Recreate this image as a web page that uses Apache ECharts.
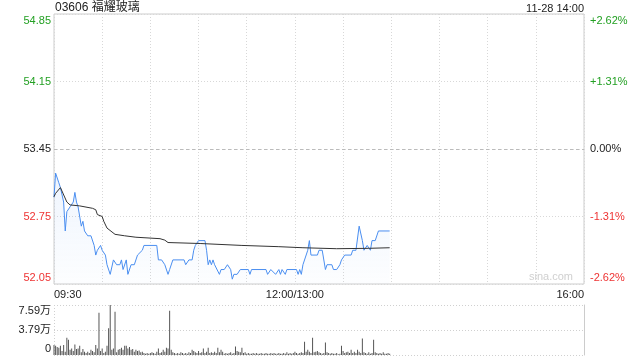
<!DOCTYPE html>
<html><head><meta charset="utf-8">
<script src="https://cdn.jsdelivr.net/npm/echarts@6/dist/echarts.min.js"></script>
<style>html,body{margin:0;padding:0;background:#fff}#c{width:640px;height:360px}</style>
</head><body><div id="c"></div>
<script>
const titleText = '03606 福耀玻璃';
const stampText = '11-28 14:00';
const watermark = 'sina.com';
const prevClose = 53.45;
const priceTickLabels = ['52.05','52.75','53.45','54.15','54.85'];
const pctTickLabels = ['-2.62%','-1.31%','0.00%','+1.31%','+2.62%'];
const timeLabels = {0:'09:30', 150:'12:00/13:00', 330:'16:00'};
const volTickLabels = ['0','3.79万','7.59万'];

const priceMin = [0,1,3,4,5,6,7,8,10,12,13,14,15,17,18,19,21,23,25,26,27,28,29,30,32,33,35,37,39,41,42,43,45,46,48,50,52,53,55,56,64,65,67,69,71,72,74,81,82,84,86,87,88,90,94,95,96,97,98,99,100,101,103,104,106,108,110,111,112,114,116,121,122,123,132,133,135,138,140,141,142,144,145,151,152,153,154,155,156,158,159,160,164,165,167,169,170,173,174,176,178,179,181,185,186,188,190,191,192,193,195,196,197,198,200,202,209];
const priceVal = [52.95,53.20,53.10,53.05,53.05,52.90,52.60,52.80,52.85,52.90,53.00,52.90,52.85,52.65,52.70,52.60,52.55,52.55,52.45,52.35,52.40,52.40,52.45,52.40,52.35,52.25,52.15,52.30,52.25,52.25,52.30,52.20,52.30,52.15,52.25,52.25,52.35,52.35,52.40,52.45,52.45,52.30,52.30,52.25,52.15,52.20,52.30,52.30,52.25,52.30,52.30,52.40,52.45,52.50,52.50,52.40,52.25,52.30,52.25,52.30,52.25,52.25,52.15,52.20,52.20,52.25,52.20,52.10,52.15,52.15,52.20,52.20,52.15,52.20,52.20,52.15,52.20,52.15,52.20,52.15,52.20,52.15,52.20,52.20,52.15,52.20,52.15,52.25,52.25,52.40,52.50,52.35,52.35,52.40,52.40,52.20,52.25,52.25,52.20,52.20,52.25,52.30,52.35,52.35,52.40,52.40,52.65,52.65,52.50,52.40,52.45,52.45,52.40,52.50,52.50,52.60,52.60];

const avgMin = [0,1,4,5,8,10,16,24,26,27,30,31,33,38,44,51,66,69,71,91,117,140,155,176,196,209];
const avgVal = [52.955,52.99,53.05,53.05,52.90,52.87,52.86,52.835,52.82,52.77,52.75,52.70,52.63,52.565,52.55,52.535,52.52,52.505,52.48,52.47,52.45,52.437,52.426,52.416,52.42,52.426];

// volume per minute, in 万 shares, minutes 0..209
const volume = [1.5,1.4,1.2,1.1,1.4,0.6,1.5,0.5,2.6,2.3,0.8,1.0,0.6,1.6,0.9,1.0,1.4,0.4,0.9,0.5,
0.3,0.5,0.3,0.8,0.6,0.4,1.5,1.0,6.4,0.6,1.0,0.3,0.5,1.4,4.05,7.59,0.8,1.0,6.57,0.4,
0.8,0.9,1.1,0.8,1.4,1.4,1.0,1.2,0.8,0.9,0.5,0.8,0.6,0.7,0.4,0.5,0.3,0.2,0.3,0.2,
0.3,0.4,0.3,0.2,0.5,1.0,0.3,0.4,0.8,0.5,1.1,1.0,6.7,0.8,0.4,0.3,0.2,0.3,0.2,0.4,
0.3,0.2,0.3,0.2,0.4,0.3,0.8,0.6,0.4,0.3,0.6,0.3,0.4,1.0,0.3,0.5,1.1,0.3,0.4,0.3,
0.5,0.3,1.1,0.4,0.8,0.5,0.2,0.3,0.2,0.3,0.4,0.2,0.3,1.3,0.6,0.5,0.4,1.1,0.3,0.4,
0.2,0.3,0.2,0.2,0.3,0.2,0.3,0.2,0.2,0.3,0.2,0.2,0.3,0.2,0.2,0.3,0.2,0.3,0.2,0.2,
0.3,0.2,0.2,0.3,0.2,0.4,0.2,0.3,0.2,0.3,0.5,0.3,0.2,0.3,0.4,0.3,2.0,0.5,0.8,0.5,
0.3,2.6,0.4,0.5,0.6,0.4,0.3,0.2,0.3,1.9,0.4,0.3,0.2,0.3,0.2,0.2,0.3,0.1,0.2,1.4,
0.6,0.3,0.4,0.5,0.3,0.8,0.3,0.5,0.3,0.8,0.5,0.3,2.5,0.4,0.3,0.2,0.4,0.2,0.3,2.3,
0.4,0.3,0.2,0.3,0.2,0.4,0.2,0.2,0.3,0.2];
const volMax = 7.59;

const FONT = '"Liberation Sans", Arial, "Noto Sans CJK SC", sans-serif';
const GREEN = '#23a023', RED = '#ee3333', BLACK = '#222';

const priceData = priceMin.map((t, i) => [t, +(priceVal[i] - prevClose).toFixed(3)]);
const avgData = avgMin.map((t, i) => [t, +(avgVal[i] - prevClose).toFixed(3)]);
const volData = volume.map((v, i) => [i, v]);

function tickIdx(v) { return Math.round((v + 1.4) / 0.7); }
const leftStyles = ['rb','r','k','g','gt'];

const chart = echarts.init(document.getElementById('c'), null, {renderer: 'canvas'});
chart.setOption({
  animation: false,
  textStyle: {fontFamily: FONT},
  grid: [
    {left: 54, right: 56, top: 14, bottom: 76, show: true, borderColor: '#ccc', borderWidth: 1},
    {left: 54, right: 56, top: 305, bottom: 5}
  ],
  graphic: [
    {type: 'text', left: 55, top: 2, style: {text: titleText, fontSize: 12, fill: BLACK, fontFamily: FONT}},
    {type: 'text', right: 56, top: 3, style: {text: stampText, fontSize: 11, fill: BLACK, fontFamily: FONT}},
    {type: 'text', right: 67, top: 271, style: {text: watermark, fontSize: 11, fill: '#d0d0d0', fontFamily: FONT}}
  ],
  xAxis: [
    {type: 'value', gridIndex: 0, min: 0, max: 330, interval: 30,
     axisLine: {show: false}, axisTick: {show: false},
     splitLine: {show: true, lineStyle: {color: '#d8d8d8', type: [1, 2]}},
     axisLabel: {show: true, margin: 5, fontSize: 11, color: BLACK, fontFamily: FONT,
       alignMinLabel: 'left', alignMaxLabel: 'right',
       formatter: v => timeLabels[v] || ''}},
    {type: 'value', gridIndex: 1, min: 0, max: 330, interval: 330,
     axisLine: {show: false}, axisTick: {show: false}, axisLabel: {show: false},
     splitLine: {show: true, lineStyle: {color: '#d0d0d0', type: [1, 2]}}}
  ],
  yAxis: [
    {type: 'value', gridIndex: 0, min: -1.4, max: 1.4, interval: 0.7,
     axisLine: {show: false}, axisTick: {show: false},
     splitLine: {show: true, lineStyle: {color: '#d8d8d8', type: [1, 2]}},
     axisLabel: {margin: 3, fontSize: 11, fontFamily: FONT,
       formatter: v => { const i = tickIdx(v); return '{' + leftStyles[i] + '|' + priceTickLabels[i] + '}'; },
       rich: {
         gt: {color: GREEN, fontSize: 11, fontFamily: FONT, padding: [14, 0, 0, 0]},
         g: {color: GREEN, fontSize: 11, fontFamily: FONT},
         k: {color: BLACK, fontSize: 11, fontFamily: FONT},
         r: {color: RED, fontSize: 11, fontFamily: FONT},
         rb: {color: RED, fontSize: 11, fontFamily: FONT, padding: [0, 0, 12, 0]}
       }}},
    {type: 'value', gridIndex: 0, position: 'right', min: -1.4, max: 1.4, interval: 0.7,
     axisLine: {show: false}, axisTick: {show: false}, splitLine: {show: false},
     axisLabel: {margin: 6, fontSize: 11, fontFamily: FONT,
       formatter: v => { const i = tickIdx(v); return '{' + leftStyles[i] + '|' + pctTickLabels[i] + '}'; },
       rich: {
         gt: {color: GREEN, fontSize: 11, fontFamily: FONT, padding: [14, 0, 0, 0]},
         g: {color: GREEN, fontSize: 11, fontFamily: FONT},
         k: {color: BLACK, fontSize: 11, fontFamily: FONT},
         r: {color: RED, fontSize: 11, fontFamily: FONT},
         rb: {color: RED, fontSize: 11, fontFamily: FONT, padding: [0, 0, 12, 0]}
       }}},
    {type: 'value', gridIndex: 1, min: 0, max: volMax, interval: volMax / 2,
     axisLine: {show: false}, axisTick: {show: false},
     splitLine: {show: true, lineStyle: {color: '#d0d0d0', type: [1, 2]}},
     axisLabel: {margin: 3, fontSize: 11, fontFamily: FONT, color: BLACK,
       formatter: v => { const i = Math.round(v / (volMax / 2)); const s = ['b','m','t'][i]; return '{' + s + '|' + volTickLabels[i] + '}'; },
       rich: {
         t: {color: BLACK, fontSize: 11, fontFamily: FONT, padding: [12, 0, 0, 0]},
         m: {color: BLACK, fontSize: 11, fontFamily: FONT},
         b: {color: BLACK, fontSize: 11, fontFamily: FONT, padding: [0, 0, 12, 0]}
       }}},
    {type: 'value', gridIndex: 1, position: 'right', min: 0, max: volMax,
     axisLine: {show: true, lineStyle: {color: '#ccc'}}, axisTick: {show: false},
     axisLabel: {show: false}, splitLine: {show: false}}
  ],
  series: [
    {type: 'line', xAxisIndex: 0, yAxisIndex: 0, data: priceData, symbol: 'none',
     lineStyle: {color: '#4a8ef0', width: 1},
     areaStyle: {origin: 'start', color: new echarts.graphic.LinearGradient(0, 0, 0, 1, [
       {offset: 0, color: 'rgba(74,142,240,0.13)'}, {offset: 1, color: 'rgba(74,142,240,0.02)'}])},
     markLine: {silent: true, symbol: 'none', label: {show: false},
       lineStyle: {color: '#bbb', type: [3, 3], width: 1}, data: [{yAxis: 0}]}},
    {type: 'line', xAxisIndex: 0, yAxisIndex: 0, data: avgData, symbol: 'none',
     lineStyle: {color: '#333', width: 1}},
    {type: 'bar', xAxisIndex: 1, yAxisIndex: 2, data: volData, barWidth: 1,
     itemStyle: {color: '#555'}}
  ]
});
</script></body></html>
